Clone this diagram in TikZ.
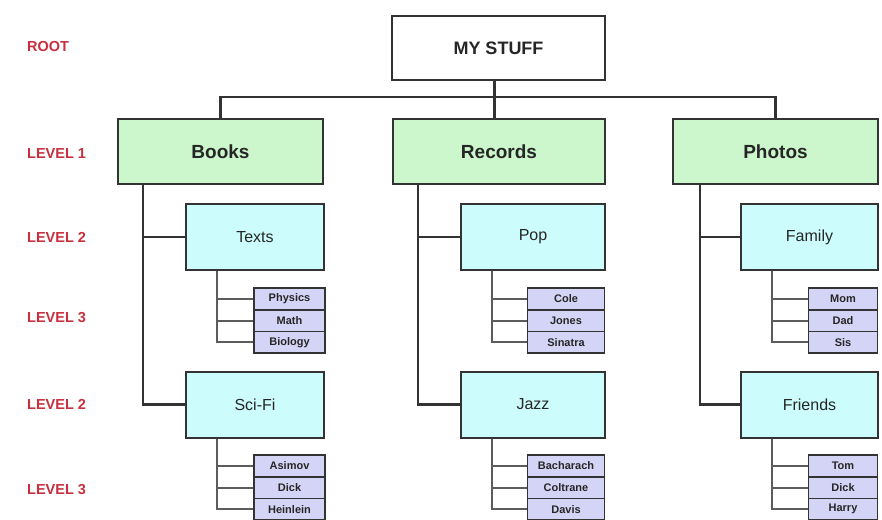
\documentclass[tikz,border=0pt]{standalone}
\usepackage{fontspec}
\setmainfont{Liberation Sans}
\definecolor{lblred}{HTML}{C8303F}
\definecolor{edge}{HTML}{333333}
\definecolor{lgreen}{HTML}{CCF7CC}
\definecolor{lcyan}{HTML}{CCFCFC}
\definecolor{lpurple}{HTML}{D4D4F6}
\begin{document}
\begin{tikzpicture}[x=1pt,y=-1pt,
  lvl/.style={text=lblred, font=\bfseries\fontsize{14.5}{14.5}\selectfont, anchor=west, inner sep=0},
  rootbox/.style={draw=edge, line width=2pt, fill=white, minimum width=213pt, minimum height=64pt, inner sep=0, font=\bfseries\fontsize{18}{18}\selectfont, text=black!85},
  onebox/.style={draw=edge, line width=2pt, fill=lgreen, minimum width=205pt, minimum height=65pt, inner sep=0, font=\bfseries\fontsize{19}{19}\selectfont, text=black!85},
  twobox/.style={draw=edge, line width=2pt, fill=lcyan, minimum height=66pt, inner sep=0, font=\fontsize{16}{16}\selectfont, text=black!85},
  leaf/.style={draw=edge, line width=1.7pt, fill=lpurple, minimum width=71pt, minimum height=21.7pt, inner sep=0, font=\bfseries\fontsize{11}{11}\selectfont, text=black!85},
  conn/.style={draw=edge, line width=2.2pt},
  lconn/.style={draw=edge!80, line width=2pt}]
\useasboundingbox (0,0) rectangle (882,519);
\clip (0,0) rectangle (882,519);
\fill[white] (0,0) rectangle (882,519);

% level labels
\node[lvl] (lroot) at (27,47) {ROOT};
\node[lvl] (l1) at (27,154) {LEVEL 1};
\node[lvl] (l2a) at (27,237) {LEVEL 2};
\node[lvl] (l3a) at (27,318) {LEVEL 3};
\node[lvl] (l2b) at (27,404) {LEVEL 2};
\node[lvl] (l3b) at (27,490) {LEVEL 3};

% root and level 1
\node[rootbox] (root) at (498.5,48) {MY STUFF};
\node[onebox] (books) at (220.5,151.5) {Books};
\node[onebox, minimum width=212pt] (records) at (499,151.5) {Records};
\node[onebox] (photos) at (775.5,151.5) {Photos};

% level 2
\node[twobox, minimum width=138pt] (texts) at (255,237) {Texts};
\node[twobox, minimum width=138pt] (scifi) at (255,404.5) {Sci-Fi};
\node[twobox, minimum width=144pt] (pop) at (533,237) {Pop};
\node[twobox, minimum width=144pt] (jazz) at (533,404.5) {Jazz};
\node[twobox, minimum width=137pt] (family) at (809.5,237) {Family};
\node[twobox, minimum width=137pt] (friends) at (809.5,404.5) {Friends};

% leaves
\node[leaf] (physics) at (289.5,298.8) {Physics};
\node[leaf] (math) at (289.5,320.5) {Math};
\node[leaf] (biology) at (289.5,342.2) {Biology};
\node[leaf] (asimov) at (289.5,465.8) {Asimov};
\node[leaf] (dick1) at (289.5,487.5) {Dick};
\node[leaf] (heinlein) at (289.5,509.2) {Heinlein};

\node[leaf, minimum width=77pt] (cole) at (566,298.8) {Cole};
\node[leaf, minimum width=77pt] (jones) at (566,320.5) {Jones};
\node[leaf, minimum width=77pt] (sinatra) at (566,342.2) {Sinatra};
\node[leaf, minimum width=77pt] (bacharach) at (566,465.8) {Bacharach};
\node[leaf, minimum width=77pt] (coltrane) at (566,487.5) {Coltrane};
\node[leaf, minimum width=77pt] (davis) at (566,509.2) {Davis};

\node[leaf, minimum width=69pt] (mom) at (843,298.8) {Mom};
\node[leaf, minimum width=69pt] (dad) at (843,320.5) {Dad};
\node[leaf, minimum width=69pt] (sis) at (843,342.2) {Sis};
\node[leaf, minimum width=69pt] (tom) at (843,465.8) {Tom};
\node[leaf, minimum width=69pt] (dick2) at (843,487.5) {Dick};
\node[leaf, minimum width=69pt] (harry) at (843,509.2) {Harry};

% root connectors
\draw[conn] ([xshift=-4pt]root.south) -- ++(0,16) coordinate (bar);
\draw[conn] (books.north) |- (bar) -| (photos.north);
\draw[conn] (bar) -- (bar |- records.north);

% level 1 -> level 2
\coordinate (bs) at ([xshift=-77.5pt]books.south);
\coordinate (rs) at ([xshift=-81pt]records.south);
\coordinate (ps) at ([xshift=-75.5pt]photos.south);
\draw[conn] (bs) |- (scifi.west);
\draw[conn] (texts.west) -- (texts.west -| bs);
\draw[conn] (rs) |- (jazz.west);
\draw[conn] (pop.west) -- (pop.west -| rs);
\draw[conn] (ps) |- (friends.west);
\draw[conn] (family.west) -- (family.west -| ps);

% level 2 -> level 3
\coordinate (ts) at ([xshift=-38pt]texts.south);
\draw[lconn] (ts) |- (biology.west);
\draw[lconn] (physics.west) -- (physics.west -| ts);
\draw[lconn] (math.west) -- (math.west -| ts);
\coordinate (ss) at ([xshift=-38pt]scifi.south);
\draw[lconn] (ss) |- (heinlein.west);
\draw[lconn] (asimov.west) -- (asimov.west -| ss);
\draw[lconn] (dick1.west) -- (dick1.west -| ss);

\coordinate (pps) at ([xshift=-41pt]pop.south);
\draw[lconn] (pps) |- (sinatra.west);
\draw[lconn] (cole.west) -- (cole.west -| pps);
\draw[lconn] (jones.west) -- (jones.west -| pps);
\coordinate (js) at ([xshift=-41pt]jazz.south);
\draw[lconn] (js) |- (davis.west);
\draw[lconn] (bacharach.west) -- (bacharach.west -| js);
\draw[lconn] (coltrane.west) -- (coltrane.west -| js);

\coordinate (fs) at ([xshift=-37.5pt]family.south);
\draw[lconn] (fs) |- (sis.west);
\draw[lconn] (mom.west) -- (mom.west -| fs);
\draw[lconn] (dad.west) -- (dad.west -| fs);
\coordinate (frs) at ([xshift=-37.5pt]friends.south);
\draw[lconn] (frs) |- (harry.west);
\draw[lconn] (tom.west) -- (tom.west -| frs);
\draw[lconn] (dick2.west) -- (dick2.west -| frs);
\end{tikzpicture}
\end{document}
